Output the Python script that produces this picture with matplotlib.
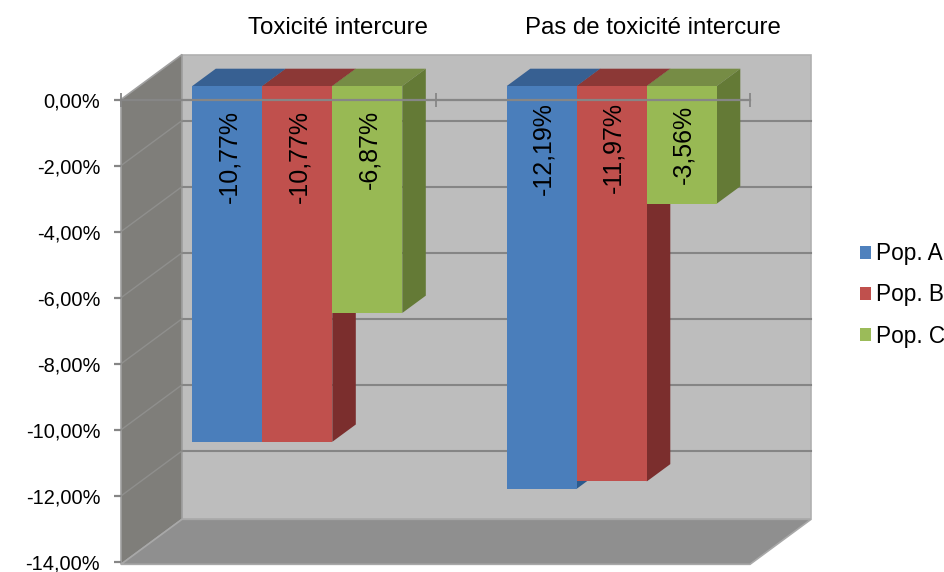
import matplotlib.pyplot as plt
from matplotlib.patches import Patch, Polygon

CATEGORIES = ['Toxicité intercure', 'Pas de toxicité intercure']
SERIES_NAMES = ['Pop. A', 'Pop. B', 'Pop. C']
POP_A = [-10.77, -12.19]
POP_B = [-10.77, -11.97]
POP_C = [-6.87, -3.56]
VALUE_LABELS = [['-10,77%', '-12,19%'], ['-10,77%', '-11,97%'], ['-6,87%', '-3,56%']]
Y_TICKS = [0, -2, -4, -6, -8, -10, -12, -14]
Y_TICK_LABELS = ['0,00%', '-2,00%', '-4,00%', '-6,00%', '-8,00%', '-10,00%', '-12,00%', '-14,00%']

W, H = 945, 572
LEFT, RIGHT, TOP, BOTTOM = 121, 750, 99.5, 562
PX_X = (RIGHT - LEFT) / 2
PX_Y = (BOTTOM - TOP) / 14

# depth of the back wall and of the bars, in data units
WALL_DX, WALL_DY = 61 / PX_X, 45 / PX_Y
BAR_DX, BAR_DY = 23.5 / PX_X, 17.3 / PX_Y
BAR_LIFT = 13.5 / PX_Y
BAR_W = 70 / PX_X
BAR_START = (192.3 - LEFT) / PX_X - 0.5
LABEL_TOPS = [[110, 102], [110, 102], [110, 105]]

FRONT = ['#4a7ebb', '#c0504d', '#98b954']
TOPS = ['#376092', '#8c3836', '#768c45']
SIDES = ['#2c5a8c', '#7b2e2d', '#647a36']
LEGEND = ['#4f81bd', '#c0504d', '#9bbb59']

plt.rcParams['font.family'] = ['Liberation Sans', 'DejaVu Sans']

fig = plt.figure(figsize=(W / 100, H / 100), dpi=100)
ax = fig.add_axes([LEFT / W, 1 - BOTTOM / H, (RIGHT - LEFT) / W, (BOTTOM - TOP) / H])
ax.set_xlim(-0.5, 1.5)
ax.set_ylim(-14, 0)
ax.patch.set_visible(False)


def poly(points, color, z, edge='none'):
    ax.add_patch(Polygon(points, closed=True, facecolor=color, edgecolor=edge, linewidth=1.2,
                         zorder=z, clip_on=False))


# walls and floor
x0, x1 = -0.5, 1.5
low = -14.07
poly([(x0 + WALL_DX, WALL_DY), (x1 + WALL_DX, WALL_DY), (x1 + WALL_DX, low + WALL_DY), (x0 + WALL_DX, low + WALL_DY)],
     '#bdbdbd', 0.5, '#b0b0b0')
poly([(x0, 0), (x0 + WALL_DX, WALL_DY), (x0 + WALL_DX, low + WALL_DY), (x0, low)], '#7f7e7a', 0.6, '#a0a0a0')
poly([(x0, low), (x0 + WALL_DX, low + WALL_DY), (x1 + WALL_DX, low + WALL_DY), (x1, low)], '#8f8f8f', 0.6, '#a8a8a8')

for t in Y_TICKS[1:-1]:
    ax.plot([x0 + WALL_DX, x1 + WALL_DX], [t + WALL_DY] * 2, color='#858585', lw=1.5, zorder=0.7, clip_on=False)
    ax.plot([x0, x0 + WALL_DX], [t, t + WALL_DY], color='#8f8f8d', lw=1, zorder=0.7, clip_on=False)

# bars, one series after the other so the next front covers the previous side
for s, values in enumerate([POP_A, POP_B, POP_C]):
    z = 1 + s * 0.3
    xs = [c + BAR_START + s * BAR_W for c in range(len(CATEGORIES))]
    ax.bar(xs, values, width=BAR_W, bottom=BAR_LIFT, align='edge', color=FRONT[s], zorder=z + 0.1, clip_on=False)
    for c, v in enumerate(values):
        xa, xb = xs[c], xs[c] + BAR_W
        poly([(xa, BAR_LIFT), (xb, BAR_LIFT), (xb + BAR_DX, BAR_LIFT + BAR_DY), (xa + BAR_DX, BAR_LIFT + BAR_DY)],
             TOPS[s], z)
        poly([(xb, BAR_LIFT), (xb + BAR_DX, BAR_LIFT + BAR_DY), (xb + BAR_DX, v + BAR_LIFT + BAR_DY), (xb, v + BAR_LIFT)],
             SIDES[s], z)
        ax.text(xa + BAR_W / 2 + 2 / PX_X, -(LABEL_TOPS[s][c] - TOP) / PX_Y, VALUE_LABELS[s][c], rotation=90,
                ha='center', va='top', fontsize=18, color='black', zorder=3)

# axes, drawn over the bars
for name in ['left', 'right', 'bottom']:
    ax.spines[name].set_visible(False)
ax.spines['top'].set_color('#868686')
ax.spines['top'].set_linewidth(1.6)
ax.spines['top'].set_zorder(2.6)
ax.set_axisbelow(False)
ax.xaxis.tick_top()
ax.set_xticks([-0.5, 0.5, 1.5])
ax.set_xticklabels([])
ax.tick_params(axis='x', direction='inout', length=10, width=1.3, color='#868686')
ax.set_yticks(Y_TICKS)
ax.set_yticklabels(Y_TICK_LABELS, fontsize=14.4)
ax.tick_params(axis='y', direction='out', length=5, width=1.6, color='#868686', pad=10)

for c, name in enumerate(CATEGORIES):
    ax.text(c + (338 - LEFT) / PX_X - 0.5, (TOP - 28.5) / PX_Y, name, ha='center', va='center', fontsize=17.3,
            color='black', clip_on=False)

handles = [Patch(facecolor=LEGEND[i], label=SERIES_NAMES[i]) for i in range(3)]
fig.legend(handles=handles, loc='center left', bbox_to_anchor=(860 / W, 1 - 295 / H), frameon=False, fontsize=16.3,
           handlelength=0.5, handleheight=0.5, handletextpad=0.2, labelspacing=0.8, borderpad=0, borderaxespad=0)

fig.savefig('out.png', dpi=100)
